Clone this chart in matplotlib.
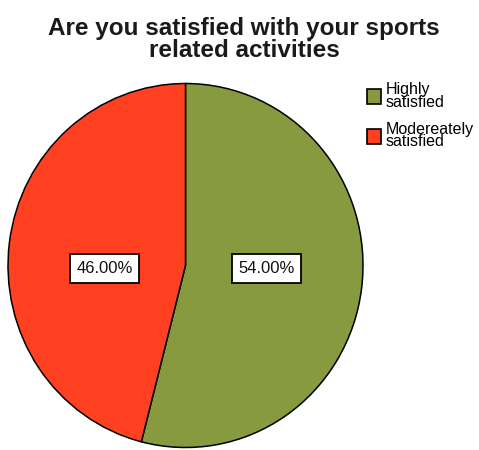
import matplotlib
matplotlib.use("Agg")
import matplotlib.pyplot as plt
from matplotlib.patches import Patch

categories = ["Highly\nsatisfied", "Modereately\nsatisfied"]
values = [54.0, 46.0]
colors = ["#889a40", "#ff4122"]
title = "Are you satisfied with your sports\nrelated activities"

plt.rcParams['font.family'] = ['Liberation Sans', 'DejaVu Sans']

fig = plt.figure(figsize=(4.79, 4.5), dpi=100)
ax = fig.add_axes([0, 0, 1, 1])

yscale = 182.0 / 177.5
cx, cy, r = 185.5, (450 - 265.5) / yscale, 177.5
wedges, texts, autotexts = ax.pie(values, colors=colors, startangle=90, counterclock=False,
                                  center=(cx, cy), radius=r, autopct='%.2f%%', pctdistance=0.46,
                                  wedgeprops=dict(edgecolor='black', linewidth=1.1),
                                  textprops=dict(fontsize=12, color='#111111'))
ax.set_xlim(0, 479)
ax.set_ylim(0, 450 / yscale)
ax.set_aspect('auto')
ax.axis('off')
for t in autotexts:
    x, y = t.get_position()
    t.set_position((x, cy - 3))
    t.set_bbox(dict(boxstyle='square,pad=0.4', facecolor='white', edgecolor='black', linewidth=1.3))

fig.text(0.51, 0.962, title, ha='center', va='top', fontsize=17.5, fontweight='bold',
         linespacing=0.95, color='#1a1a1a')

handles = [Patch(facecolor=c, edgecolor='black', linewidth=1.2) for c in colors]
leg = fig.legend(handles, categories, loc='upper left', bbox_to_anchor=(0.742, 0.842),
                 frameon=False, fontsize=11.5, handlelength=0.9, handleheight=1.05,
                 handletextpad=0.3, labelspacing=0.75, borderpad=0.2)
for t in leg.get_texts():
    t.set_linespacing(0.8)

fig.savefig("out.png", dpi=100)
